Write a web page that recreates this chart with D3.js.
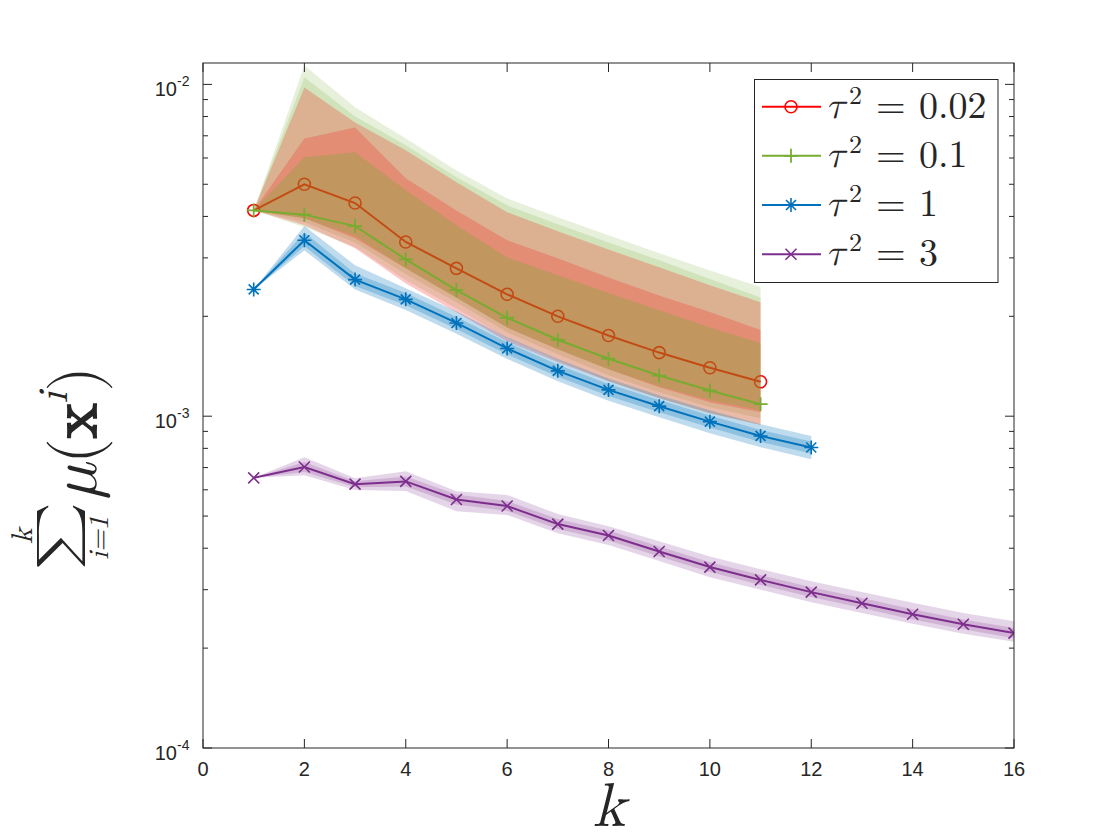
<!DOCTYPE html>
<html>
<head>
<meta charset="utf-8">
<script src="https://cdn.jsdelivr.net/npm/d3@7/dist/d3.min.js"></script>
<style>
  body { margin: 0; background: #fff; }
  text { fill: #262626; }
</style>
</head>
<body>
<svg id="chart" width="1120" height="840"></svg>
<script>
// iteration index k for each curve
const kShort = [1, 2, 3, 4, 5, 6, 7, 8, 9, 10, 11];
const kBlue = [1, 2, 3, 4, 5, 6, 7, 8, 9, 10, 11, 12];
const kPurple = [1, 2, 3, 4, 5, 6, 7, 8, 9, 10, 11, 12, 13, 14, 15, 16];

// all values below are in units of 1e-3
const redMean = [4.17, 5.00, 4.39, 3.35, 2.79, 2.33, 2.00, 1.75, 1.555, 1.40, 1.27];
const redHiA = [4.17, 9.79, 7.68, 6.33, 5.07, 4.12, 3.61, 3.18, 2.81, 2.48, 2.205];
const redLoA = [4.17, 3.76, 3.21, 2.51, 2.056, 1.68, 1.454, 1.275, 1.133, 1.021, 0.940];
const redHiB = [4.17, 6.87, 7.42, 5.21, 4.17, 3.39, 2.99, 2.62, 2.31, 2.06, 1.82];
const redLoB = [4.17, 3.95, 3.44, 2.79, 2.28, 1.85, 1.59, 1.385, 1.222, 1.102, 1.028];

const greenMean = [4.17, 4.05, 3.74, 2.97, 2.40, 1.98, 1.70, 1.49, 1.326, 1.195, 1.087];
const greenHiA = [4.17, 11.41, 8.53, 6.87, 5.50, 4.53, 3.98, 3.51, 3.10, 2.75, 2.45];
const greenLoA = [4.17, 3.71, 3.23, 2.57, 2.11, 1.72, 1.474, 1.275, 1.133, 1.021, 0.940];
const greenHiB = [4.17, 10.50, 8.00, 6.55, 5.25, 4.32, 3.79, 3.34, 2.95, 2.59, 2.28];
const greenLoB = [4.17, 3.84, 3.34, 2.68, 2.205, 1.79, 1.537, 1.329, 1.181, 1.064, 0.986];
const greenHiC = [4.17, 6.03, 6.24, 4.80, 3.76, 3.01, 2.66, 2.35, 2.085, 1.85, 1.66];
const greenLoC = [4.17, 3.95, 3.49, 2.79, 2.27, 1.85, 1.59, 1.385, 1.231, 1.117, 1.043];

const blueMean = [2.41, 3.39, 2.58, 2.25, 1.91, 1.60, 1.37, 1.20, 1.072, 0.963, 0.872, 0.805];
const blueHiA = [2.41, 3.74, 2.85, 2.43, 2.07, 1.73, 1.486, 1.298, 1.157, 1.043, 0.946, 0.871];
const blueLoA = [2.41, 3.16, 2.41, 2.09, 1.773, 1.488, 1.275, 1.114, 0.993, 0.889, 0.806, 0.742];
const blueHiB = [2.41, 3.58, 2.69, 2.35, 1.99, 1.67, 1.43, 1.25, 1.118, 1.004, 0.909, 0.839];
const blueLoB = [2.41, 3.25, 2.47, 2.16, 1.83, 1.535, 1.314, 1.151, 1.028, 0.924, 0.836, 0.772];

const purpleMean = [0.652, 0.703, 0.624, 0.636, 0.561, 0.536, 0.473, 0.437, 0.391, 0.351, 0.321, 0.295, 0.273, 0.253, 0.236, 0.222];
const purpleHiA = [0.652, 0.752, 0.650, 0.683, 0.594, 0.579, 0.507, 0.466, 0.420, 0.378, 0.346, 0.318, 0.295, 0.274, 0.255, 0.241];
const purpleLoA = [0.652, 0.664, 0.599, 0.595, 0.517, 0.504, 0.444, 0.409, 0.366, 0.327, 0.300, 0.275, 0.255, 0.237, 0.221, 0.209];
const purpleHiB = [0.652, 0.728, 0.637, 0.658, 0.581, 0.555, 0.490, 0.452, 0.405, 0.363, 0.332, 0.305, 0.283, 0.262, 0.244, 0.230];
const purpleLoB = [0.652, 0.679, 0.611, 0.614, 0.542, 0.518, 0.457, 0.422, 0.378, 0.339, 0.310, 0.285, 0.264, 0.244, 0.228, 0.214];

const legendLabels = ['0.02', '0.1', '1', '3'];
const xTicks = [0, 2, 4, 6, 8, 10, 12, 14, 16];
const yMajor = [1e-4, 1e-3, 1e-2];
const yMajorExp = ['-4', '-3', '-2'];

const unit = 1e-3;
const svg = d3.select('#chart');
const box = { left: 203, right: 1014, top: 63, bottom: 748 };

const x = d3.scaleLinear().domain([0, 16]).range([box.left, box.right]);
const y = d3.scaleLog().domain([1e-4, 0.0116]).range([box.bottom, box.top]);

const RED = 'rgb(255,0,0)', GREEN = 'rgb(119,172,48)',
  BLUE = 'rgb(0,114,189)', PURPLE = 'rgb(126,47,142)';

// clip marks to the axes box
svg.append('defs').append('clipPath').attr('id', 'clip')
  .append('rect')
  .attr('x', box.left).attr('y', box.top)
  .attr('width', box.right - box.left).attr('height', box.bottom - box.top);

const plot = svg.append('g').attr('clip-path', 'url(#clip)');

const lineGen = d3.line().x(d => x(d[0])).y(d => y(d[1] * unit));
const areaGen = d3.area()
  .x(d => x(d[0]))
  .y0(d => y(d[1] * unit))
  .y1(d => y(d[2] * unit));

// marker shapes
const markers = {
  circle: (g, c) => g.append('circle').attr('r', 6).attr('fill', 'none')
    .attr('stroke', c).attr('stroke-width', 1.6),
  plus: (g, c) => g.append('path').attr('d', 'M-7,0H7M0,-7V7')
    .attr('stroke', c).attr('stroke-width', 1.8),
  star: (g, c) => g.append('path')
    .attr('d', 'M-7,0H7M0,-7V7M-5,-5L5,5M-5,5L5,-5')
    .attr('stroke', c).attr('stroke-width', 1.6),
  cross: (g, c) => g.append('path').attr('d', 'M-5.5,-5.5L5.5,5.5M-5.5,5.5L5.5,-5.5')
    .attr('stroke', c).attr('stroke-width', 1.6)
};

const drawLine = (ks, vals, color, marker) => {
  const pts = ks.map((k, i) => [k, vals[i]]);
  plot.append('path').datum(pts)
    .attr('d', lineGen)
    .attr('fill', 'none')
    .attr('stroke', color)
    .attr('stroke-width', 2);
  pts.forEach(p => {
    const g = plot.append('g').attr('transform', `translate(${x(p[0])},${y(p[1] * unit)})`);
    markers[marker](g, color);
  });
};

const drawBand = (ks, lo, hi, color, alpha) => {
  const rows = ks.map((k, i) => [k, lo[i], hi[i]]);
  plot.append('path').datum(rows)
    .attr('d', areaGen)
    .attr('fill', color)
    .attr('fill-opacity', alpha)
    .attr('stroke', 'none');
};

// layering as in the source figure: translucent patches sit over earlier lines
drawLine(kShort, redMean, RED, 'circle');
drawBand(kShort, greenLoA, greenHiA, GREEN, 0.18);
drawBand(kShort, greenLoB, greenHiB, GREEN, 0.18);
drawBand(kShort, redLoA, redHiA, RED, 0.22);
drawBand(kShort, redLoB, redHiB, RED, 0.2);
drawBand(kShort, greenLoC, greenHiC, GREEN, 0.3);
drawLine(kShort, greenMean, GREEN, 'plus');

drawLine(kBlue, blueMean, BLUE, 'star');
drawBand(kBlue, blueLoA, blueHiA, BLUE, 0.25);
drawBand(kBlue, blueLoB, blueHiB, BLUE, 0.25);

drawLine(kPurple, purpleMean, PURPLE, 'cross');
drawBand(kPurple, purpleLoA, purpleHiA, PURPLE, 0.2);
drawBand(kPurple, purpleLoB, purpleHiB, PURPLE, 0.2);

// axes box
const axisColor = '#262626';
svg.append('rect')
  .attr('x', box.left).attr('y', box.top)
  .attr('width', box.right - box.left).attr('height', box.bottom - box.top)
  .attr('fill', 'none').attr('stroke', axisColor).attr('stroke-width', 1);

// x ticks (bottom and top, pointing inward)
const tickFont = '"Liberation Sans", Arial, sans-serif';
xTicks.forEach(t => {
  const px = x(t);
  svg.append('line').attr('x1', px).attr('x2', px)
    .attr('y1', box.bottom).attr('y2', box.bottom - 9).attr('stroke', axisColor);
  svg.append('line').attr('x1', px).attr('x2', px)
    .attr('y1', box.top).attr('y2', box.top + 9).attr('stroke', axisColor);
  svg.append('text').attr('x', px).attr('y', box.bottom + 28)
    .attr('text-anchor', 'middle')
    .style('font-family', tickFont).style('font-size', '20px')
    .text(t);
});

// y ticks: decades plus 2..9 minor ticks
const yMinor = [];
[1e-4, 1e-3].forEach(d => [2, 3, 4, 5, 6, 7, 8, 9].forEach(m => yMinor.push(d * m)));
yMinor.concat(yMajor).forEach(v => {
  const py = y(v);
  const len = yMajor.includes(v) ? 9 : 5;
  svg.append('line').attr('x1', box.left).attr('x2', box.left + len)
    .attr('y1', py).attr('y2', py).attr('stroke', axisColor);
  svg.append('line').attr('x1', box.right).attr('x2', box.right - len)
    .attr('y1', py).attr('y2', py).attr('stroke', axisColor);
});
yMajor.forEach((v, i) => {
  const py = y(v);
  svg.append('text').attr('x', 177).attr('y', py + 12)
    .attr('text-anchor', 'end')
    .style('font-family', tickFont).style('font-size', '20px')
    .text('10');
  svg.append('text').attr('x', 177).attr('y', py + 2)
    .style('font-family', tickFont).style('font-size', '14px')
    .text(yMajorExp[i]);
});

// axis labels
const mathFont = '"Latin Modern Math", "Liberation Serif", "DejaVu Serif", serif';
svg.append('text').attr('x', 609).attr('y', 826)
  .attr('text-anchor', 'middle')
  .style('font-family', mathFont).style('font-style', 'italic').style('font-size', '62px')
  .text('k');

// y label, rotated, reads bottom to top
const ylab = (sx, sy, txt, size, opts = {}) => {
  const sc = opts.stretch || 1;
  const t = svg.append('text')
    .attr('transform', `translate(${sx},${sy}) rotate(-90) scale(${sc},1)`)
    .attr('text-anchor', opts.anchor || 'middle')
    .style('font-family', mathFont).style('font-size', size + 'px');
  if (opts.italic) t.style('font-style', 'italic');
  t.text(txt);
  return t;
};
ylab(73, 536, '\u2211', 48, { stretch: 1.35 });
ylab(32, 536, 'k', 30, { italic: true });
ylab(108, 538, 'i=1', 28, { italic: true });
const main = svg.append('text')
  .attr('transform', 'translate(96,499) rotate(-90)')
  .style('font-family', mathFont).style('font-size', '66px');
main.append('tspan').style('font-style', 'italic').text('\u03bc');
main.append('tspan').text('(');
main.append('tspan').style('font-weight', 'bold').text('x');
main.append('tspan').style('font-style', 'italic').style('font-size', '42px')
  .attr('dy', -29).text('i');
main.append('tspan').attr('dy', 29).text(')');

// legend
const lg = svg.append('g');
lg.append('rect').attr('x', 754.5).attr('y', 79.5).attr('width', 243.5).attr('height', 203)
  .attr('fill', '#fff').attr('stroke', axisColor).attr('stroke-width', 1);
const legendItems = [
  { color: RED, marker: 'circle' }, { color: GREEN, marker: 'plus' },
  { color: BLUE, marker: 'star' }, { color: PURPLE, marker: 'cross' }
];
const rowY = [106.7, 155.8, 205, 254.3];
legendItems.forEach((s, i) => {
  const ry = rowY[i];
  lg.append('line').attr('x1', 762).attr('x2', 821).attr('y1', ry).attr('y2', ry)
    .attr('stroke', s.color).attr('stroke-width', 2);
  markers[s.marker](lg.append('g').attr('transform', `translate(791,${ry})`), s.color);
  const tt = lg.append('text').attr('x', 826).attr('y', ry + 11)
    .style('font-family', mathFont).style('font-size', '38px');
  tt.append('tspan').style('font-style', 'italic').text('\u03c4');
  tt.append('tspan').attr('x', 849).attr('dy', -14).style('font-size', '26px').text('2');
  tt.append('tspan').attr('x', 876).attr('dy', 14).text('=');
  tt.append('tspan').attr('x', 919).text(legendLabels[i]);
});
</script>
</body>
</html>
